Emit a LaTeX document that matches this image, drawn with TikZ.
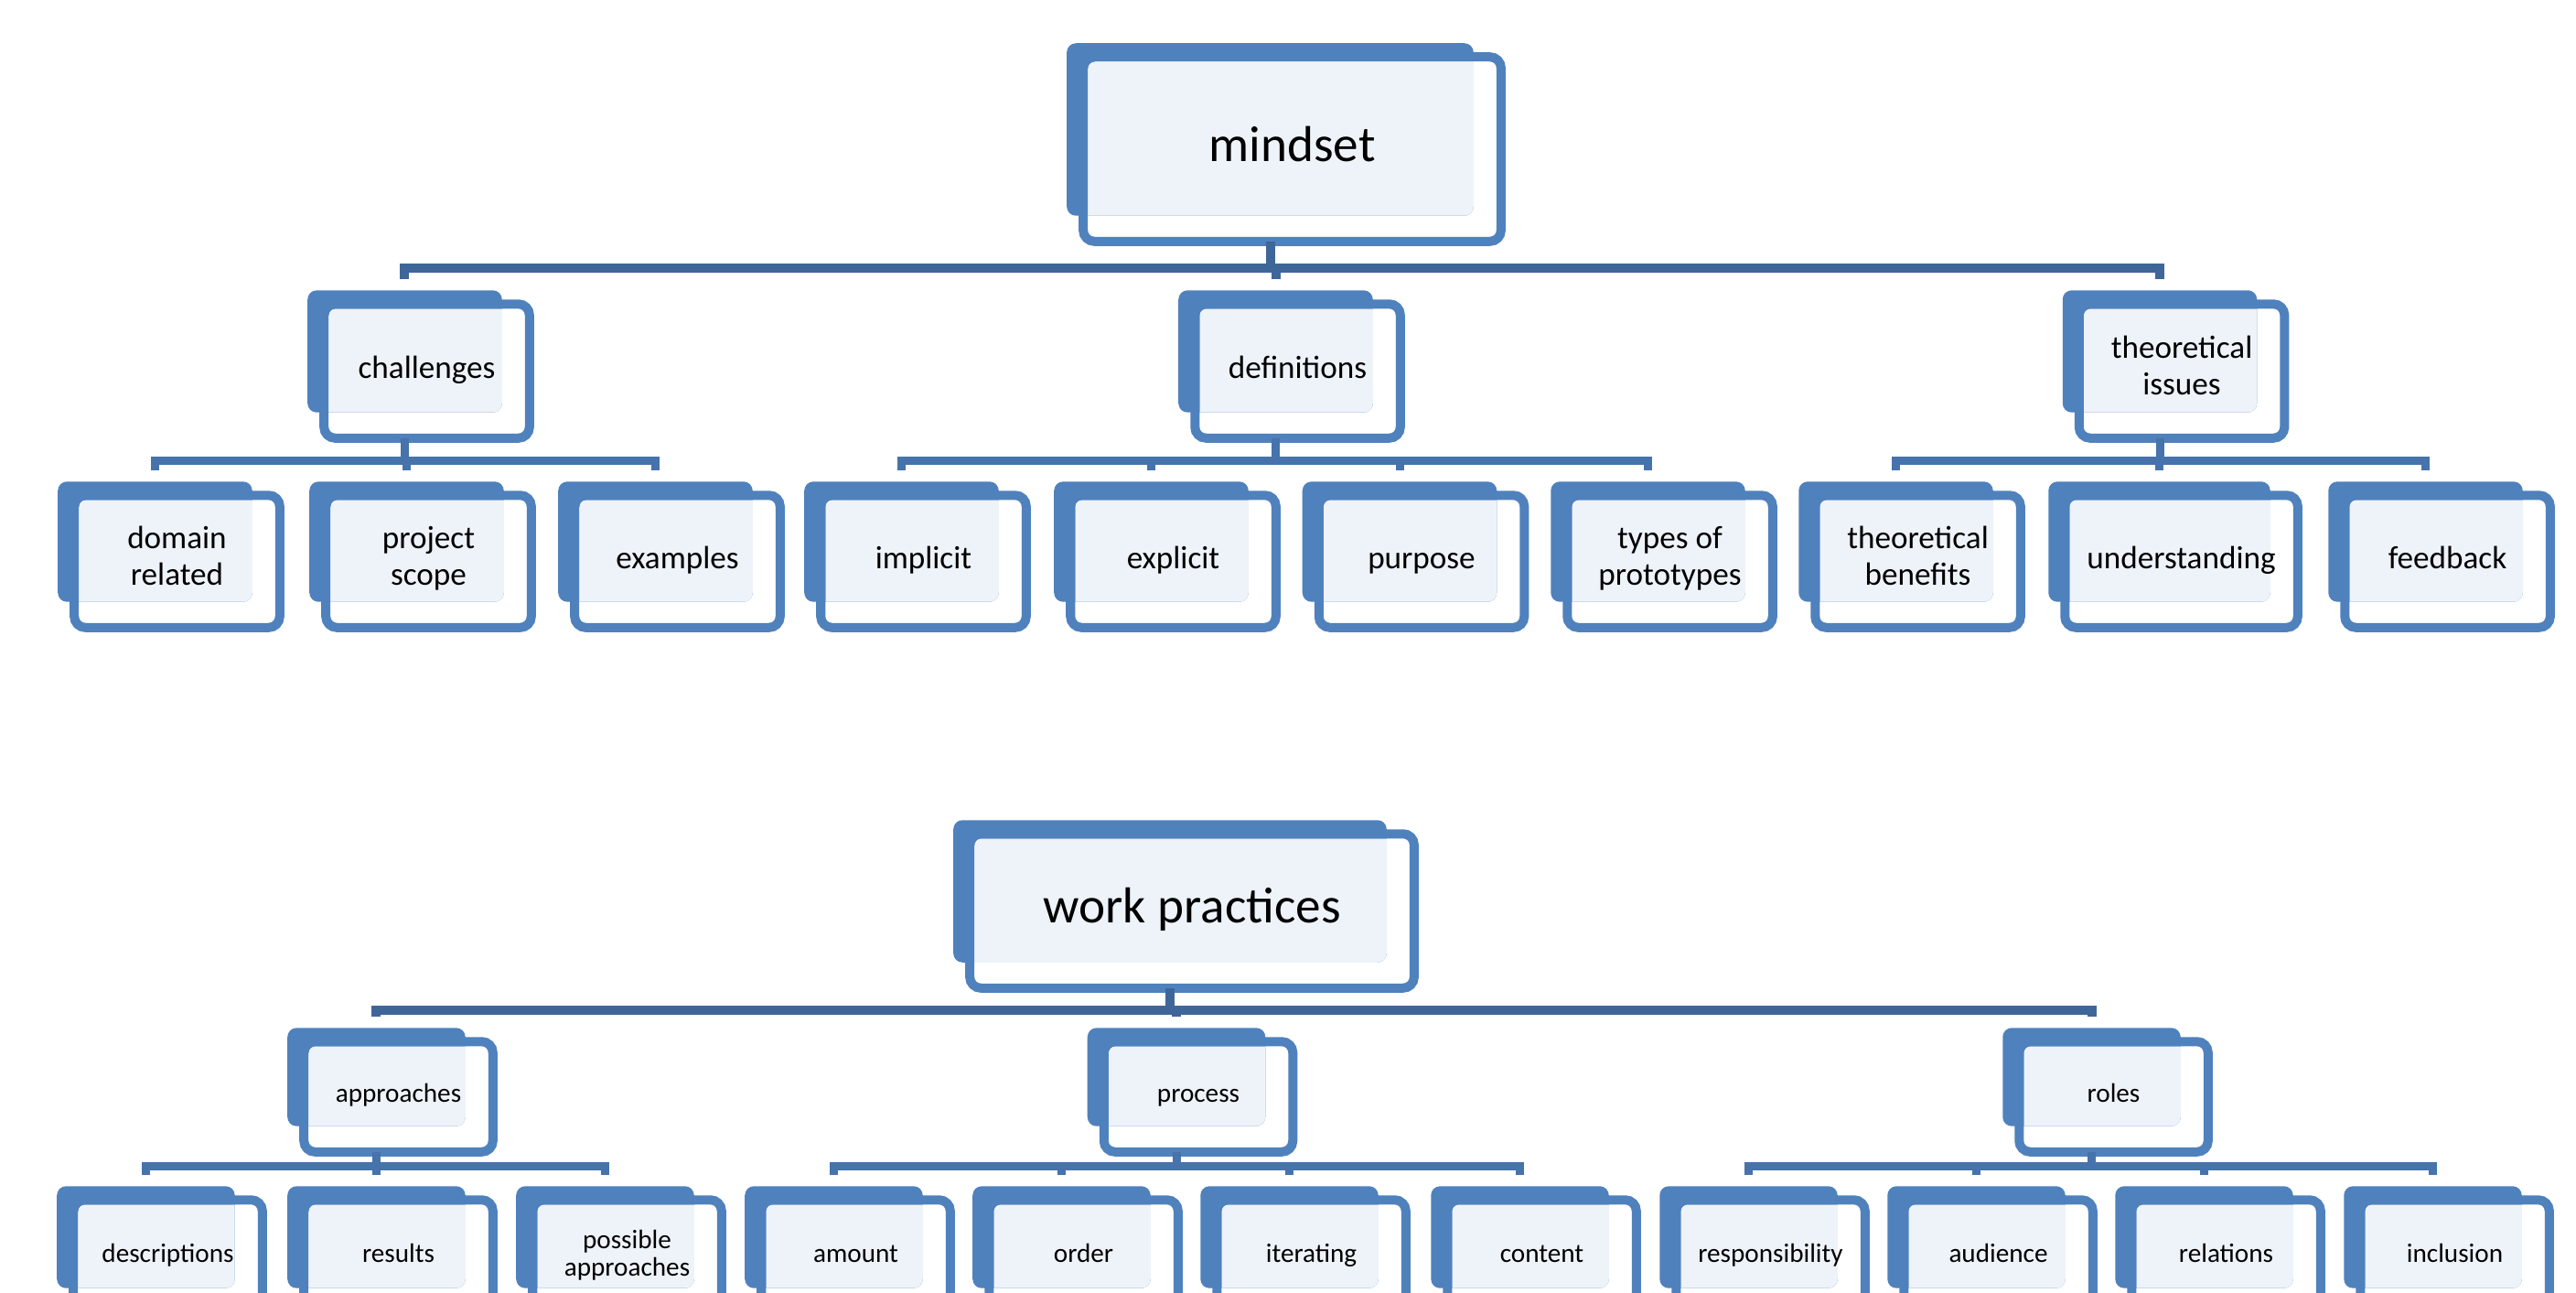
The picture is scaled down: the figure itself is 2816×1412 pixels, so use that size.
\documentclass[tikz,border=0pt]{standalone}
\usepackage{fontspec}
\setmainfont{Carlito}
\usetikzlibrary{backgrounds}
\definecolor{boxblue}{HTML}{4F81BD}
\definecolor{boxfill}{HTML}{EEF3FA}
\definecolor{trunkblue}{HTML}{3F6699}
\definecolor{branchblue}{HTML}{4673AB}
\tikzset{
  card/.style={rectangle, inner sep=0pt, align=center, text=black,
    execute at begin node=\strut, execute at end node=\strut},
  bigcard/.style={card, minimum width=4.55cm, minimum height=2cm, font=\fontsize{15.7}{19}\selectfont},
  subcard/.style={card, minimum width=2.23cm, minimum height=1.45cm, font=\fontsize{10}{11.4}\selectfont},
  leafcard/.style={card, minimum width=2.23cm, minimum height=1.43cm, font=\fontsize{10}{11.4}\selectfont},
  smallsub/.style={card, minimum width=2.05cm, minimum height=1.19cm, font=\fontsize{8.3}{8.6}\selectfont},
  smallleaf/.style={card, minimum width=2.05cm, minimum height=1.23cm, font=\fontsize{8.3}{8.6}\selectfont},
  trunk/.style={draw=trunkblue, line width=0.1cm},
  branch/.style={draw=branchblue, line width=0.09cm}
}
\begin{document}
\begin{tikzpicture}[x=0.01cm, y=-0.01cm]
\useasboundingbox (0,0) rectangle (2816,1412);
% mindset tree
\node[bigcard] (mindset) at (1412.5,163) {mindset};
\node[subcard] (challenges) at (466.5,405.5) {challenges};
\node[subcard] (definitions) at (1418.5,405.5) {definitions};
\node[subcard] (theoissues) at (2385,405.5) {theoretical\\issues};
\node[leafcard] (domain) at (193.5,613.5) {domain\\related};
\node[leafcard] (projscope) at (468.5,613.5) {project\\scope};
\node[leafcard] (examples) at (740.5,613.5) {examples};
\node[leafcard] (implicit) at (1009.5,613.5) {implicit};
\node[leafcard] (explicit) at (1282.5,613.5) {explicit};
\node[leafcard] (purpose) at (1554,613.5) {purpose};
\node[leafcard] (types) at (1825.5,613.5) {types of\\prototypes};
\node[leafcard] (benefits) at (2096.5,613.5) {theoretical\\benefits};
\node[leafcard, minimum width=2.53cm] (understanding) at (2384.5,613.5) {understanding};
\node[leafcard] (feedback) at (2675.5,613.5) {feedback};
% work practices tree
\node[bigcard, minimum width=4.84cm, minimum height=1.67cm] (workprac) at (1303,995.5) {work practices};
\node[smallsub] (approaches) at (435.5,1198.5) {approaches};
\node[smallsub] (process) at (1310,1198.5) {process};
\node[smallsub] (roles) at (2310.5,1198.5) {roles};
\node[smallleaf] (descr) at (183.5,1373.5) {descriptions};
\node[smallleaf] (results) at (435.5,1373.5) {results};
\node[smallleaf] (possible) at (685.5,1373.5) {possible\\approaches};
\node[smallleaf] (amount) at (935.5,1373.5) {amount};
\node[smallleaf] (order) at (1184.5,1373.5) {order};
\node[smallleaf] (iterating) at (1433.5,1373.5) {iterating};
\node[smallleaf] (content) at (1685.5,1373.5) {content};
\node[smallleaf] (resp) at (1935.5,1373.5) {responsibility};
\node[smallleaf] (audience) at (2184.5,1373.5) {audience};
\node[smallleaf] (relations) at (2433.5,1373.5) {relations};
\node[smallleaf] (inclusion) at (2683.5,1373.5) {inclusion};

\begin{scope}[on background layer]
\foreach \n in {mindset,challenges,definitions,theoissues,domain,projscope,examples,
    implicit,explicit,purpose,types,benefits,understanding,feedback,
    workprac,approaches,process,roles,descr,results,possible,amount,order,
    iterating,content,resp,audience,relations,inclusion}{
  % tab behind
  \fill[boxblue, rounded corners=0.1cm] ([shift={(-0.18cm,0.15cm)}]\n.north west)
    rectangle ([shift={(-0.30cm,0.28cm)}]\n.south east);
  \begin{scope}
    \clip[rounded corners=0.1cm] ([shift={(-0.18cm,0.15cm)}]\n.north west)
      rectangle ([shift={(-0.30cm,0.28cm)}]\n.south east);
    \fill[boxfill, rounded corners=0.08cm] ([shift={(0.05cm,-0.05cm)}]\n.north west)
      rectangle ([shift={(-0.05cm,0.05cm)}]\n.south east);
  \end{scope}
  % frame
  \draw[boxblue, line width=0.1cm, rounded corners=0.12cm] (\n.north west) rectangle (\n.south east);
  \coordinate (\n-t) at ([shift={(-0.24cm,0.27cm)}]\n.north);
  \coordinate (\n-b) at ([xshift=-0.24cm]\n.south);
}
\end{scope}

% connectors
\coordinate (bus1) at (0,293);
\coordinate (bus2) at (0,503);
\coordinate (bus3) at (0,1104);
\coordinate (bus4) at (0,1274);
\foreach \p/\first/\last/\rest/\bus/\lnk in {
    mindset/challenges/theoissues/{definitions}/bus1/trunk,
    challenges/domain/examples/{projscope}/bus2/branch,
    definitions/implicit/types/{explicit,purpose}/bus2/branch,
    theoissues/benefits/feedback/{understanding}/bus2/branch,
    workprac/approaches/roles/{process}/bus3/trunk,
    approaches/descr/possible/{results}/bus4/branch,
    process/amount/content/{order,iterating}/bus4/branch,
    roles/resp/inclusion/{audience,relations}/bus4/branch}{
  \draw[\lnk] (\p-b) -- (\p-b |- \bus);
  \draw[\lnk] (\first-t) -- (\first-t |- \bus) -- (\last-t |- \bus) -- (\last-t);
  \foreach \m in \rest
    \draw[\lnk] (\m-t) -- (\m-t |- \bus);
}
\end{tikzpicture}
\end{document}
